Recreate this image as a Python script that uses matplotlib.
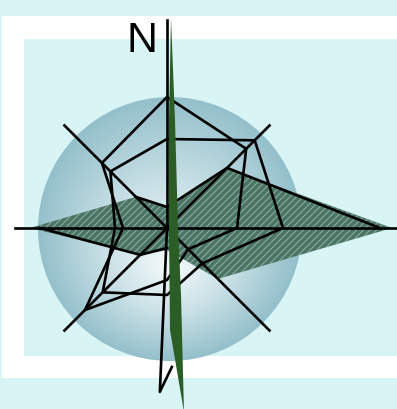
import numpy as np
import matplotlib
matplotlib.use("Agg")
import matplotlib.pyplot as plt
from matplotlib.patches import Rectangle, Circle, Polygon
from matplotlib.colors import LinearSegmentedColormap

# radar data, one value per compass direction (radius in chart units)
directions = ["E", "NE", "N", "NW", "W", "SW", "S", "SE"]
angles_deg = [0, 45, 90, 135, 180, 225, 270, 315]
hatched = [225, 85, 21, 44, 137, 38, 22, 72]
outline = [213, 85, 21, 44, 127, 38, 20, 72]
series_a = [70, 112, 131, 92, 44, 116, 52, 30]
series_b = [116, 124, 89, 80, 52, 91, 67, 50]
spoke_len = [235, 145, 208, 145, 152, 145, 164, 145]
# parts of the outline series that are drawn (indices into directions)
outline_runs = [[3, 2, 1, 0], [4, 5, 6]]

W, H = 397, 409
CX, CY = 167, 228      # centre of the rose, pixels from top-left
RMAX = 235
BG = "#d8f4f5"

plt.rcParams["hatch.linewidth"] = 0.7

fig = plt.figure(figsize=(W / 100, H / 100), dpi=100)
fig.patch.set_facecolor(BG)

# background: frame + sphere
ax_bg = fig.add_axes([0, 0, 1, 1])
ax_bg.axis("off")
ax_bg.add_patch(Rectangle((2, 16), W, 362, facecolor="white", edgecolor="none", zorder=1))
ax_bg.add_patch(Rectangle((24, 39), W, 317, facecolor=BG, edgecolor="none", zorder=1))

# sphere with an off-centre radial gradient
sx, sy, sr = 170, 229, 132
fx, fy = 170, 268
n = 400
gx, gy = np.meshgrid(np.linspace(sx - sr, sx + sr, n), np.linspace(sy - sr, sy + sr, n))
px, py = gx - fx, gy - fy
dist = np.hypot(px, py) + 1e-9
dx, dy = px / dist, py / dist
wx, wy = fx - sx, fy - sy
wd = wx * dx + wy * dy
s = -wd + np.sqrt(np.maximum(wd ** 2 - (wx ** 2 + wy ** 2 - sr ** 2), 0))
t = np.clip(dist / s, 0, 1)
cmap = LinearSegmentedColormap.from_list("sph", ["#f4fafb", "#c9e0e6", "#94c0cb"])
im = ax_bg.imshow(t, cmap=cmap, vmin=0, vmax=1, origin="upper", zorder=2,
                  extent=(sx - sr, sx + sr, sy + sr, sy - sr), interpolation="bilinear")
im.set_clip_path(Circle((sx, sy), sr, transform=ax_bg.transData))
ax_bg.set_xlim(0, W)
ax_bg.set_ylim(H, 0)

# radar in polar axes centred on the rose
ax_p = fig.add_axes([(CX - RMAX) / W, (H - CY - RMAX) / H, 2 * RMAX / W, 2 * RMAX / H],
                    projection="polar")
ax_p.set_ylim(0, RMAX)
ax_p.axis("off")
ax_p.patch.set_alpha(0)

theta = np.deg2rad(angles_deg)
closed = np.append(theta, theta[0])

def close(vals):
    return np.append(vals, vals[0])

ax_p.fill(closed, close(hatched), facecolor="#4a7464", edgecolor="#93b1a6",
          linewidth=0, hatch="/////", zorder=2)

for i, ang in enumerate(angles_deg):
    if directions[i] == "S":
        ax_p.plot(np.deg2rad([267.5, 267.5, 272]), [0, spoke_len[i], 139],
                  color="black", lw=1.9, zorder=3)
    else:
        ax_p.plot([np.deg2rad(ang)] * 2, [0, spoke_len[i]], color="black", lw=1.9, zorder=3)

for run in outline_runs:
    ax_p.plot(theta[run], np.array(outline)[run], color="black", lw=1.9, zorder=4)

for vals in (series_a, series_b):
    ax_p.plot(closed, close(vals), color="black", lw=1.9, zorder=4)

# needle and label on top
ax_top = fig.add_axes([0, 0, 1, 1])
ax_top.set_xlim(0, W)
ax_top.set_ylim(H, 0)
ax_top.axis("off")
needle = [(171, 18), (175, 120), (178, 228), (181, 295), (184, 412),
          (170, 330), (169, 228), (169, 120)]
ax_top.add_patch(Polygon(needle, closed=True, facecolor="#2b5d26", edgecolor="none"))
ax_top.text(142, 52, "N", ha="center", va="baseline", fontsize=31,
            family="Liberation Sans", color="black")

fig.savefig("out.png", dpi=100, facecolor=fig.get_facecolor())
